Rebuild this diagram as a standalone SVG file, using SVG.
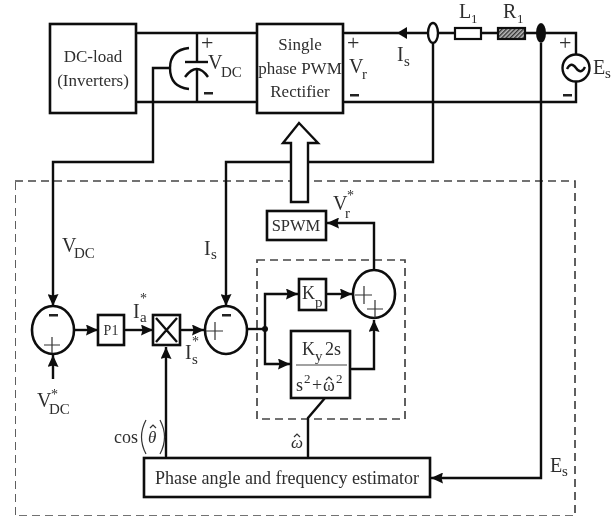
<svg xmlns="http://www.w3.org/2000/svg" width="611" height="518" viewBox="0 0 611 518">
<style>
text{font-family:"Liberation Serif","Times New Roman",serif;fill:#2e2e2e;font-size:17px}
.c{text-anchor:middle}
.b{fill:#fff;stroke:#111;stroke-width:2.6}
.w{fill:none;stroke:#111;stroke-width:2.4}
.d{fill:none;stroke:#444;stroke-width:1.7;stroke-dasharray:8 5}
.p{fill:none;stroke:#333;stroke-width:1.2}
.v{font-size:20px}
.pl{font-size:22px}
.sub{font-size:15px}
.s1{font-size:13px}
.st{font-size:14px}
</style>
<defs>
<marker id="a" markerUnits="userSpaceOnUse" markerWidth="13" markerHeight="11" refX="12" refY="5.5" orient="auto"><path d="M0 0L12 5.5L0 11L1.5 5.5Z" fill="#111"/></marker>
<pattern id="h" width="3" height="3" patternUnits="userSpaceOnUse" patternTransform="rotate(-45)"><rect width="3" height="3" fill="#bbb"/><rect width="3" height="1.4" fill="#333"/></pattern>
<filter id="blur" x="0" y="0" width="100%" height="100%"><feGaussianBlur stdDeviation="0.45"/></filter>
</defs>
<rect width="611" height="518" fill="#fff"/>
<g filter="url(#blur)">
<g id="frames">
<rect class="d" x="15" y="181" width="560" height="335"/>
<rect class="d" x="257" y="260" width="148" height="159"/>
</g>
<g id="connectors">
<path class="w" d="M136 33H257M136 102H257M197 33V62M197 68V102"/>
<path class="w" d="M343 33H455M481 33H498M525 33H576V54M576 82V102H343"/>
<path class="w" d="M170 68H153V162H53V306" marker-end="url(#a)"/>
<path class="w" d="M433 43V162H226V306" marker-end="url(#a)"/>
<path class="w" d="M541 43V478H431" marker-end="url(#a)"/>
<path class="w" d="M74 330H98" marker-end="url(#a)"/>
<path class="w" d="M124 330H153" marker-end="url(#a)"/>
<path class="w" d="M180 330H204" marker-end="url(#a)"/>
<path class="w" d="M53 379V355" marker-end="url(#a)"/>
<path class="w" d="M166 458V347" marker-end="url(#a)"/>
<path class="w" d="M247 329H265"/>
<path class="w" d="M265 329V294H298" marker-end="url(#a)"/>
<path class="w" d="M265 329V364H290" marker-end="url(#a)"/>
<path class="w" d="M326 294H352" marker-end="url(#a)"/>
<path class="w" d="M350 369H374V320" marker-end="url(#a)"/>
<path class="w" d="M374 271V223H327" marker-end="url(#a)"/>
<path class="w" d="M325 398L308 418V458"/>
<path class="w" d="M291 202V143H283L299 123L318 143H308V202Z" style="fill:#fff"/>
<path d="M407 27L397 33L407 39Z" fill="#111"/>
<circle cx="265" cy="329" r="3" fill="#111"/>
</g>
<g id="capacitor">
<path class="w" d="M185 62H208"/>
<path class="w" d="M185 77Q197 61 208 77"/>
<path class="w" d="M189 48Q170 50 170 68Q170 87 189 89"/>
<text x="201" y="50" class="pl">+</text>
<rect x="204" y="92" width="9" height="2.5" fill="#222"/>
<text x="208" y="69" class="v">V</text><text x="221" y="77" class="sub">DC</text>
</g>
<g id="dc-load">
<rect class="b" x="50" y="24" width="86" height="89"/>
<text class="c" x="93" y="62">DC-load</text>
<text class="c" x="93" y="86">(Inverters)</text>
</g>
<g id="rectifier">
<rect class="b" x="257" y="24" width="86" height="89"/>
<text class="c" x="300" y="50">Single</text>
<text class="c" x="300" y="74">phase PWM</text>
<text class="c" x="300" y="97">Rectifier</text>
</g>
<g id="vr-label">
<text x="347" y="50" class="pl">+</text>
<rect x="350" y="94" width="9" height="2.5" fill="#222"/>
<text x="349" y="73" class="v">V</text><text x="362" y="79" class="sub">r</text>
</g>
<g id="is-label"><text x="397" y="61" class="v">I</text><text x="404" y="66" class="sub">s</text></g>
<g id="current-sensor"><ellipse cx="433" cy="33" rx="5" ry="10" fill="#fff" stroke="#111" stroke-width="2.4"/></g>
<g id="inductor">
<rect x="455" y="28" width="26" height="11" fill="#fff" stroke="#111" stroke-width="2.2"/>
<text x="459" y="18" class="v">L</text><text x="471" y="23" class="s1">1</text>
</g>
<g id="resistor">
<rect x="498" y="28" width="27" height="11" fill="url(#h)" stroke="#111" stroke-width="2.2"/>
<text x="503" y="18" class="v">R</text><text x="517" y="23" class="s1">1</text>
</g>
<g id="voltage-sensor"><ellipse cx="541" cy="33" rx="5" ry="10" fill="#111"/></g>
<g id="source">
<circle cx="576" cy="68" r="13.5" fill="#fff" stroke="#111" stroke-width="2.4"/>
<path class="w" d="M567 69Q571 61 576 68T585 67"/>
<text x="559" y="50" class="pl">+</text>
<rect x="563" y="94" width="9" height="2.5" fill="#222"/>
<text x="593" y="74" class="v">E</text><text x="605" y="78" class="sub">s</text>
</g>
<g id="sum-vdc">
<ellipse class="b" cx="53" cy="330" rx="21" ry="24"/>
<rect x="49" y="314" width="9" height="2.5" fill="#222"/>
<path class="p" d="M44 345H60M52 337V353"/>
<text x="62" y="252" class="v">V</text><text x="74" y="258" class="sub">DC</text>
<text x="37" y="407" class="v">V</text><text x="49" y="414" class="sub">DC</text><text x="51" y="399" class="st">*</text>
</g>
<g id="pi"><rect class="b" x="98" y="315" width="26" height="30"/><text class="c" x="111" y="335" style="font-size:14px">P1</text></g>
<g id="ia-label"><text x="133" y="318" class="v">I</text><text x="140" y="322" class="sub">a</text><text x="140" y="303" class="st">*</text></g>
<g id="multiplier">
<rect class="b" x="153" y="315" width="27" height="30"/>
<path class="w" d="M156 318L177 342M177 318L156 342"/>
</g>
<g id="is-ref-label"><text x="185" y="359" class="v">I</text><text x="192" y="364" class="sub">s</text><text x="192" y="346" class="st">*</text></g>
<g id="sum-is">
<ellipse class="b" cx="226" cy="330" rx="21" ry="24"/>
<rect x="222" y="314" width="9" height="2.5" fill="#222"/>
<path class="p" d="M206 331H223M215 322V340"/>
<text x="204" y="255" class="v">I</text><text x="211" y="259" class="sub">s</text>
</g>
<g id="kp"><rect class="b" x="299" y="279" width="27" height="31"/><text x="302" y="299" style="font-size:18px">K</text><text x="315" y="307" class="sub">p</text></g>
<g id="resonant">
<rect class="b" x="291" y="331" width="59" height="67"/>
<path d="M296 365H347" stroke="#444" stroke-width="1.2"/>
<text x="302" y="355" style="font-size:18px">K</text><text x="315" y="361" class="sub">y</text><text x="325" y="355" style="font-size:18px">2s</text>
<text x="296" y="391" style="font-size:18px">s</text><text x="304" y="383" class="s1">2</text><text x="312" y="391" style="font-size:18px">+</text><text x="323" y="391" style="font-size:18px">ω</text><path class="p" d="M326 380L329 377L332 380"/><text x="336" y="383" class="s1">2</text>
</g>
<g id="sum-out">
<ellipse class="b" cx="374" cy="294" rx="21" ry="24"/>
<path class="p" d="M355 295H372M364 286V304M367 309H383M375 300V318"/>
</g>
<g id="spwm"><rect class="b" x="267" y="211" width="59" height="29"/><text class="c" x="296" y="231" style="font-size:16.5px">SPWM</text></g>
<g id="vr-ref-label"><text x="333" y="210" class="v">V</text><text x="345" y="218" class="sub">r</text><text x="347" y="200" class="st">*</text></g>
<g id="estimator">
<rect class="b" x="144" y="458" width="286" height="39"/>
<text class="c" x="287" y="484" style="font-size:18px">Phase angle and frequency estimator</text>
</g>
<g id="angle-labels">
<text x="114" y="443" style="font-size:18px">cos</text>
<path class="p" d="M146 420Q137 437 146 454M160 420Q169 437 160 454"/>
<text x="148" y="443" style="font-size:17px;font-style:italic">θ</text><path class="p" d="M150 428L153 425L156 428"/>
<text x="291" y="448" style="font-size:17px;font-style:italic">ω</text><path class="p" d="M294 437L297 434L300 437"/>
<text x="550" y="472" class="v">E</text><text x="562" y="476" class="sub">s</text>
</g>
</g>
</svg>
